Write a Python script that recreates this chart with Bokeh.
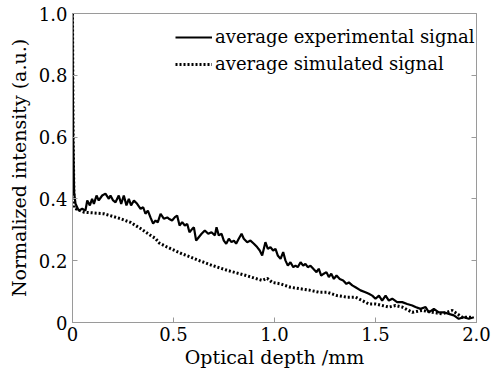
from bokeh.plotting import figure
from bokeh.models import Range1d, LinearAxis, FixedTicker, Legend, LegendItem
from bokeh.embed import file_html
from bokeh.resources import INLINE

# Data
exp_x = [0, 0.003, 0.008, 0.015, 0.031, 0.048, 0.064, 0.073, 0.086, 0.097, 0.106, 0.119, 0.130,
         0.147, 0.163, 0.180, 0.188, 0.201, 0.213, 0.229, 0.241, 0.254, 0.267, 0.279, 0.290,
         0.304, 0.320, 0.337, 0.350, 0.361, 0.373, 0.386, 0.399, 0.411, 0.422, 0.436, 0.452,
         0.469, 0.477, 0.493, 0.507, 0.518, 0.530, 0.543, 0.556, 0.568, 0.579, 0.593, 0.601,
         0.612, 0.625, 0.639, 0.655, 0.672, 0.688, 0.705, 0.713, 0.724, 0.738, 0.749, 0.761,
         0.774, 0.787, 0.799, 0.810, 0.823, 0.837, 0.848, 0.865, 0.881, 0.898, 0.914, 0.927,
         0.939, 0.955, 0.967, 0.980, 0.993, 1.005, 1.016, 1.030, 1.043, 1.054, 1.066, 1.079,
         1.093, 1.104, 1.115, 1.129, 1.142, 1.153, 1.165, 1.178, 1.192, 1.208, 1.219, 1.231,
         1.244, 1.257, 1.269, 1.281, 1.294, 1.307, 1.323, 1.340, 1.356, 1.368, 1.385, 1.401,
         1.426, 1.450, 1.467, 1.484, 1.500, 1.517, 1.533, 1.550, 1.566, 1.583, 1.607, 1.632,
         1.657, 1.682, 1.698, 1.723, 1.748, 1.764, 1.789, 1.813, 1.838, 1.863, 1.888, 1.912,
         1.937, 1.962, 1.987]
exp_y = [1.0, 0.6, 0.42, 0.384, 0.362, 0.368, 0.362, 0.395, 0.379, 0.400, 0.384, 0.411, 0.395,
         0.411, 0.417, 0.400, 0.411, 0.395, 0.389, 0.411, 0.384, 0.411, 0.379, 0.400, 0.379,
         0.395, 0.384, 0.368, 0.373, 0.352, 0.362, 0.340, 0.320, 0.330, 0.324, 0.352, 0.336,
         0.340, 0.336, 0.330, 0.341, 0.346, 0.314, 0.325, 0.314, 0.319, 0.292, 0.303, 0.308,
         0.265, 0.276, 0.287, 0.298, 0.287, 0.292, 0.282, 0.308, 0.282, 0.287, 0.265, 0.255,
         0.271, 0.260, 0.265, 0.255, 0.271, 0.287, 0.271, 0.260, 0.265, 0.255, 0.244, 0.233,
         0.217, 0.260, 0.238, 0.244, 0.233, 0.238, 0.217, 0.206, 0.228, 0.201, 0.184, 0.195,
         0.179, 0.184, 0.179, 0.195, 0.184, 0.190, 0.179, 0.184, 0.174, 0.163, 0.174, 0.152,
         0.158, 0.163, 0.147, 0.158, 0.141, 0.152, 0.141, 0.136, 0.125, 0.130, 0.120, 0.114,
         0.104, 0.098, 0.093, 0.087, 0.077, 0.087, 0.071, 0.087, 0.071, 0.077, 0.066, 0.066,
         0.060, 0.055, 0.050, 0.044, 0.050, 0.033, 0.044, 0.033, 0.033, 0.028, 0.023, 0.012,
         0.017, 0.012, 0.017]

sim_x = [0, 0.003, 0.008, 0.056, 0.155, 0.238, 0.287, 0.337, 0.386, 0.411, 0.43, 0.469, 0.543,
         0.58, 0.617, 0.69, 0.77, 0.86, 0.939, 0.964, 0.988, 1.030, 1.079, 1.129, 1.178, 1.219,
         1.261, 1.310, 1.360, 1.401, 1.434, 1.467, 1.500, 1.533, 1.566, 1.599, 1.632, 1.682,
         1.731, 1.781, 1.830, 1.880, 1.929, 1.979]
sim_y = [1.0, 0.6, 0.37, 0.357, 0.352, 0.336, 0.324, 0.304, 0.282, 0.272, 0.257, 0.244, 0.222,
         0.213, 0.203, 0.185, 0.168, 0.152, 0.136, 0.143, 0.130, 0.125, 0.114, 0.109, 0.104,
         0.098, 0.098, 0.087, 0.082, 0.082, 0.071, 0.060, 0.060, 0.055, 0.050, 0.055, 0.050,
         0.033, 0.039, 0.033, 0.028, 0.039, 0.017, 0.017]

x_ticks = [0, 0.5, 1.0, 1.5, 2.0]
x_tick_labels = ["0", "0.5", "1.0", "1.5", "2.0"]
y_ticks = [0, 0.2, 0.4, 0.6, 0.8, 1.0]
y_tick_labels = ["0", "0.2", "0.4", "0.6", "0.8", "1.0"]

series_labels = ["average experimental signal", "average simulated signal"]
x_label = "Optical depth /mm"
y_label = "Normalized intensity (a.u.)"

FONT = "DejaVu Serif"
AXIS_GREY = "#9a9a9a"

p = figure(width=492, height=376, output_backend="svg", toolbar_location=None,
           x_range=Range1d(0, 2.0), y_range=Range1d(0, 1.0),
           min_border_left=72, min_border_right=16, min_border_top=13, min_border_bottom=54,
           x_axis_location=None, y_axis_location=None)
p.xgrid.visible = False
p.ygrid.visible = False
p.outline_line_color = AXIS_GREY
p.outline_line_width = 1
p.background_fill_color = "white"
p.border_fill_color = "white"

def style_axis(ax, ticks, labels, show_labels=True):
    ax.ticker = FixedTicker(ticks=ticks)
    ax.major_label_overrides = {t: l for t, l in zip(ticks, labels)}
    ax.axis_line_color = AXIS_GREY
    ax.major_tick_line_color = AXIS_GREY
    ax.major_tick_in = 5
    ax.major_tick_out = 0
    ax.minor_tick_line_color = None
    ax.major_label_text_font = FONT
    ax.major_label_text_font_size = "18px"
    ax.major_label_text_color = "black"
    ax.axis_label_text_font = FONT
    ax.axis_label_text_font_size = "19px"
    ax.axis_label_text_font_style = "normal"
    ax.axis_label_text_color = "black"
    if not show_labels:
        ax.major_label_text_font_size = "0px"
        ax.major_label_text_color = None

xa = LinearAxis(axis_label=x_label)
style_axis(xa, x_ticks, x_tick_labels)
xa.major_label_standoff = 4
xa.axis_label_standoff = 2
p.add_layout(xa, "below")

ya = LinearAxis(axis_label=y_label)
style_axis(ya, y_ticks, y_tick_labels)
ya.major_label_standoff = 5
ya.axis_label_standoff = 6
p.add_layout(ya, "left")

ra = LinearAxis()
style_axis(ra, y_ticks, y_tick_labels, show_labels=False)
p.add_layout(ra, "right")

r_exp = p.line(exp_x, exp_y, line_color="black", line_width=2.2)
r_sim = p.line(sim_x, sim_y, line_color="black", line_width=3, line_dash="2 2")

legend = Legend(items=[LegendItem(label=series_labels[0], renderers=[r_exp]),
                       LegendItem(label=series_labels[1], renderers=[r_sim])],
                location=(103, 248))
legend.border_line_color = None
legend.background_fill_alpha = 0
legend.padding = 0
legend.margin = 0
legend.spacing = 6
legend.glyph_width = 37
legend.glyph_height = 20
legend.label_height = 20
legend.label_standoff = 3
legend.label_text_font = FONT
legend.label_text_font_size = "18px"
legend.label_text_color = "black"
p.add_layout(legend, "center")

open("out.html", "w").write(file_html(p, INLINE))
